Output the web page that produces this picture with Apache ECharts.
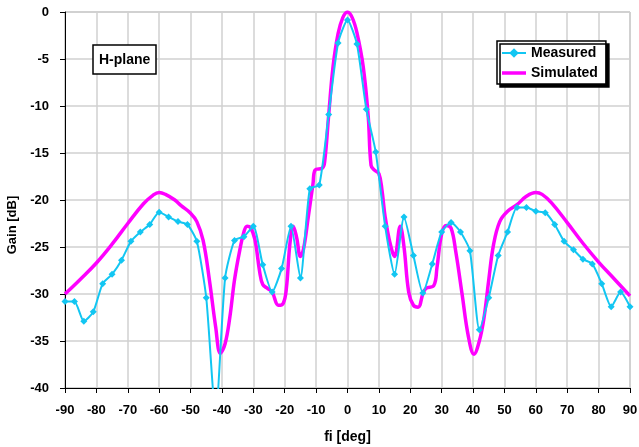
<!DOCTYPE html>
<html>
<head>
<meta charset="utf-8">
<script src="https://cdn.jsdelivr.net/npm/echarts@6/dist/echarts.min.js"></script>
<style>
  html, body { margin: 0; padding: 0; background: #fff; }
  #chart { width: 639px; height: 447px; }
</style>
</head>
<body>
<div id="chart"></div>
<script>
// Measured H-plane pattern, sampled every 3 degrees
const measuredAngle = [
  -90, -87, -84, -81, -78, -75, -72, -69, -66, -63, -60, -57, -54, -51, -48, -45,
  -42, -39, -36, -33, -30, -27, -24, -21, -18, -15, -12, -9, -6, -3, 0,
  3, 6, 9, 12, 15, 18, 21, 24, 27, 30, 33, 36, 39, 42, 45,
  48, 51, 54, 57, 60, 63, 66, 69, 72, 75, 78, 81, 84, 87, 90
];
const measuredGain = [
  -30.8, -30.8, -32.9, -31.9, -28.9, -27.9, -26.4, -24.4, -23.4, -22.6, -21.3, -21.8, -22.3, -22.6, -24.4, -30.4,
  -43.0, -28.3, -24.3, -23.9, -22.8, -26.9, -29.8, -27.3, -22.8, -28.3, -18.8, -18.4, -10.9, -3.3, -0.85,
  -3.4, -10.35, -14.9, -22.8, -27.9, -21.8, -25.9, -29.9, -26.8, -23.4, -22.4, -23.4, -25.4, -33.8, -30.4,
  -25.9, -23.4, -20.8, -20.8, -21.2, -21.35, -22.6, -24.4, -25.3, -26.3, -26.8, -28.9, -31.35, -29.8, -31.35
];

// Simulated H-plane pattern
const simAngle = [
  -90, -85, -80, -75, -70, -65, -62, -60, -58, -55, -53, -50, -48, -46, -44, -42,
  -40.5, -39, -37.5, -36, -34.3, -33, -32, -31, -29.5, -28, -27, -25.5, -24, -22, -20.5,
  -19.5, -18.3, -17.3, -16.2, -15, -14, -12.5, -11, -10.3, -8, -7.3, -6, -4.6, -3, -1.5, 0,
  1.5, 3, 5, 6.6, 7.5, 8.5, 10, 11, 12, 13.5, 15, 16.8, 18, 19.5, 21, 22.5,
  24, 25, 27.5, 28.5, 30, 31.5, 33, 34.5, 36.5, 38.5, 40.3, 42, 43.5, 45, 46.5,
  48.5, 51, 54, 57, 60, 62, 65, 70, 75, 80, 85, 90
];
const simGain = [
  -30.0, -28.4, -26.7, -24.7, -22.5, -20.4, -19.5, -19.2, -19.4, -20.0, -20.6, -21.4, -22.3, -24.3, -28.5, -33.5,
  -36.3, -35.3, -32.5, -28.5, -25.3, -23.4, -22.8, -22.9, -24.2, -27.6, -29.0, -29.4, -29.8, -31.2, -31.0,
  -29.5, -24.5, -22.8, -24.0, -26.0, -25.2, -21.8, -18.3, -16.8, -16.6, -16.0, -11.0, -5.8, -2.3, -0.6, 0,
  -0.6, -2.2, -5.8, -11.1, -16.3, -16.8, -17.2, -19.0, -21.8, -24.5, -26.0, -22.8, -25.0, -29.8, -31.2, -31.4,
  -30.0, -29.4, -29.1, -27.2, -23.6, -22.7, -23.0, -25.5, -30.0, -34.5, -36.4, -35.0, -32.5, -28.5, -24.8,
  -22.3, -21.2, -20.5, -19.6, -19.2, -19.4, -20.3, -22.4, -24.6, -26.6, -28.4, -30.2
];

const xTicks = { min: -90, max: 90, step: 10 };
const yTicks = { min: -40, max: 0, step: 5 };

const toPairs = (xs, ys) => xs.map((x, i) => [x, ys[i]]);

const font = 'Liberation Sans, Arial, sans-serif';
const cyan = '#12C6F2';
const magenta = '#FF00FF';

// thick horizontal bar inside a 24x12 box, used as the legend key of a plain line
const barIcon = 'path://M0,0L0.01,0L0.01,0.01L0,0.01Z M0,4.2L24,4.2L24,7.8L0,7.8Z M23.99,11.99L24,11.99L24,12L23.99,12Z';

const chart = echarts.init(document.getElementById('chart'), null, { renderer: 'canvas' });

chart.setOption({
  animation: false,
  backgroundColor: '#fff',
  textStyle: { fontFamily: font },
  grid: {
    left: 65, right: 9, top: 12, bottom: 59,
    containLabel: false,
    outerBoundsMode: 'none',
    show: true, borderColor: '#A6A6A6', borderWidth: 1
  },
  title: {
    text: 'H-plane',
    left: 93, top: 45,
    padding: [8, 6, 7, 6],
    backgroundColor: '#fff',
    borderColor: '#000',
    borderWidth: 1.5,
    textStyle: { fontFamily: font, fontWeight: 'bold', fontSize: 14, color: '#000' }
  },
  legend: {
    orient: 'vertical',
    left: 497, top: 41,
    padding: [5, 8, 4, 4],
    itemGap: 6,
    itemWidth: 24,
    itemHeight: 12,
    backgroundColor: '#fff',
    borderColor: '#000',
    borderWidth: 1.5,
    shadowColor: '#000',
    shadowBlur: 0,
    shadowOffsetX: 3,
    shadowOffsetY: 3,
    textStyle: { fontFamily: font, fontWeight: 'bold', fontSize: 14, color: '#000' },
    data: [
      { name: 'Measured' },
      { name: 'Simulated', icon: barIcon }
    ]
  },
  xAxis: {
    type: 'value',
    min: xTicks.min, max: xTicks.max, interval: xTicks.step,
    name: 'fi [deg]',
    nameLocation: 'middle',
    nameGap: 42,
    nameTextStyle: { fontFamily: font, fontWeight: 'bold', fontSize: 14, color: '#000' },
    axisLine: { onZero: false, lineStyle: { color: '#000', width: 1 } },
    axisTick: { show: true, length: 5, lineStyle: { color: '#000' } },
    axisLabel: { margin: 16, fontFamily: font, fontWeight: 'bold', fontSize: 13, color: '#000' },
    splitLine: { show: true, lineStyle: { color: '#D0D0D0', width: 1.5 } }
  },
  yAxis: {
    type: 'value',
    min: yTicks.min, max: yTicks.max, interval: yTicks.step,
    name: 'Gain [dB]',
    nameLocation: 'middle',
    nameGap: 46,
    nameRotate: 90,
    nameTextStyle: { fontFamily: font, fontWeight: 'bold', fontSize: 13, color: '#000', padding: [0, 50, 0, 0] },
    axisLine: { show: true, onZero: false, lineStyle: { color: '#000', width: 1 } },
    axisTick: { show: true, length: 5, lineStyle: { color: '#000' } },
    axisLabel: { margin: 16, fontFamily: font, fontWeight: 'bold', fontSize: 13, color: '#000' },
    splitLine: { show: true, lineStyle: { color: '#D0D0D0', width: 1.5 } }
  },
  series: [
    {
      name: 'Simulated',
      type: 'line',
      data: toPairs(simAngle, simGain),
      smooth: 0.4,
      showSymbol: false,
      symbol: 'none',
      clip: true,
      z: 2,
      lineStyle: { color: magenta, width: 3.5 },
      itemStyle: { color: magenta }
    },
    {
      name: 'Measured',
      type: 'line',
      data: toPairs(measuredAngle, measuredGain),
      smooth: 0.2,
      symbol: 'diamond',
      symbolSize: 7,
      clip: true,
      z: 3,
      lineStyle: { color: cyan, width: 2 },
      itemStyle: { color: cyan }
    }
  ]
});
</script>
</body>
</html>
